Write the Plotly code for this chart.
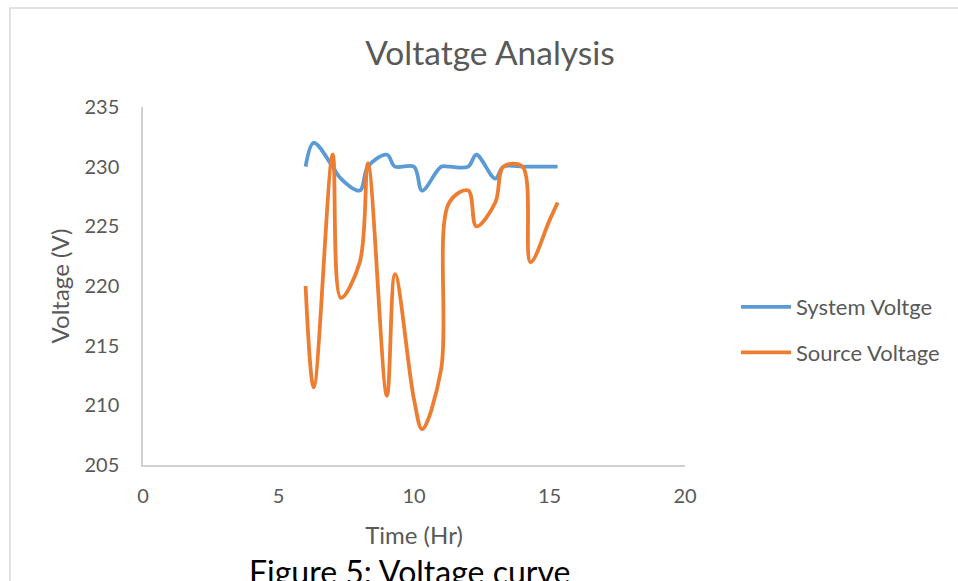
import plotly.graph_objects as go

# Time values (hh.mm written as decimals)
time_hr = [6.00, 6.30, 7.00, 7.30, 8.00, 8.30, 9.00, 9.30, 10.00, 10.30,
           11.00, 11.30, 12.00, 12.30, 13.00, 13.30, 14.00, 14.30, 15.00, 15.30]
system_voltage = [230, 232, 230, 229, 228, 230, 231, 230, 230, 228,
                  230, 230, 230, 231, 229, 230, 230, 230, 230, 230]
source_voltage = [220, 211.5, 231, 219, 222, 230.3, 210.8, 221, 210.5, 208,
                  213, 227, 228, 225, 227, 230, 230, 222, 225.5, 227]

x_ticks = [0, 5, 10, 15, 20]
y_ticks = [205, 210, 215, 220, 225, 230, 235]

FONT = "Lato"
GRAY = "#595959"
W, H = 958, 581
L, R, T, B = 143, 685, 107, 465
pw, ph = R - L, B - T

def px(xp):
    return (xp - L) / pw

def py(yp):
    return (B - yp) / ph

fig = go.Figure()
fig.add_trace(go.Scatter(x=time_hr, y=system_voltage, name="System Voltge",
                         mode="lines", line=dict(color="#5B9BD5", width=3.8, shape="spline", smoothing=1),
                         legendgroup="a"))
fig.add_trace(go.Scatter(x=time_hr, y=source_voltage, name="Source Voltage",
                         mode="lines", line=dict(color="#ED7D31", width=3.8, shape="spline", smoothing=1),
                         legendgroup="b"))

fig.update_layout(
    width=W, height=H,
    margin=dict(l=L, r=W - R, t=T, b=H - B),
    paper_bgcolor="white", plot_bgcolor="white",
    font=dict(family=FONT, color=GRAY, size=20),
    title=dict(text="Voltatge Analysis", x=490 / W, xanchor="center", xref="container",
               y=1 - 53 / H, yanchor="middle", yref="container",
               font=dict(family=FONT, size=33.5, color=GRAY)),
    xaxis=dict(range=[0, 20], tickvals=x_ticks, showgrid=False, zeroline=False,
               showline=True, linecolor="#d0d0d0", linewidth=1.5, ticks="",
               ticklabelstandoff=12, tickfont=dict(size=20, color=GRAY),
               title=dict(text="Time (Hr)", standoff=21, font=dict(size=24, color=GRAY))),
    yaxis=dict(range=[205, 235], tickvals=y_ticks, showgrid=False, zeroline=False,
               showline=True, linecolor="#d0d0d0", linewidth=1.5, ticks="",
               ticklabelstandoff=18, tickfont=dict(size=20, color=GRAY),
               title=dict(text="Voltage (V)", standoff=8, font=dict(size=24, color=GRAY))),
    legend=dict(x=px(736), xanchor="left", y=py(330), yanchor="middle",
                font=dict(size=22, color=GRAY), tracegroupgap=14,
                bgcolor="rgba(0,0,0,0)", itemwidth=50),
    showlegend=True,
)

fig.add_shape(type="rect", xref="paper", yref="paper",
              x0=px(10), x1=px(962), y0=py(8), y1=py(620),
              line=dict(color="#d9d9d9", width=1.5), fillcolor="rgba(0,0,0,0)", layer="below")

fig.add_annotation(text="Figure 5: Voltage curve", xref="paper", yref="paper",
                   x=px(409), y=py(550), xanchor="center", yanchor="top", showarrow=False,
                   font=dict(family=FONT, size=32, color="black"))

fig.write_html("out.html", config={"displayModeBar": False},
               post_script="document.body.style.margin='0';document.body.style.overflow='hidden';")
